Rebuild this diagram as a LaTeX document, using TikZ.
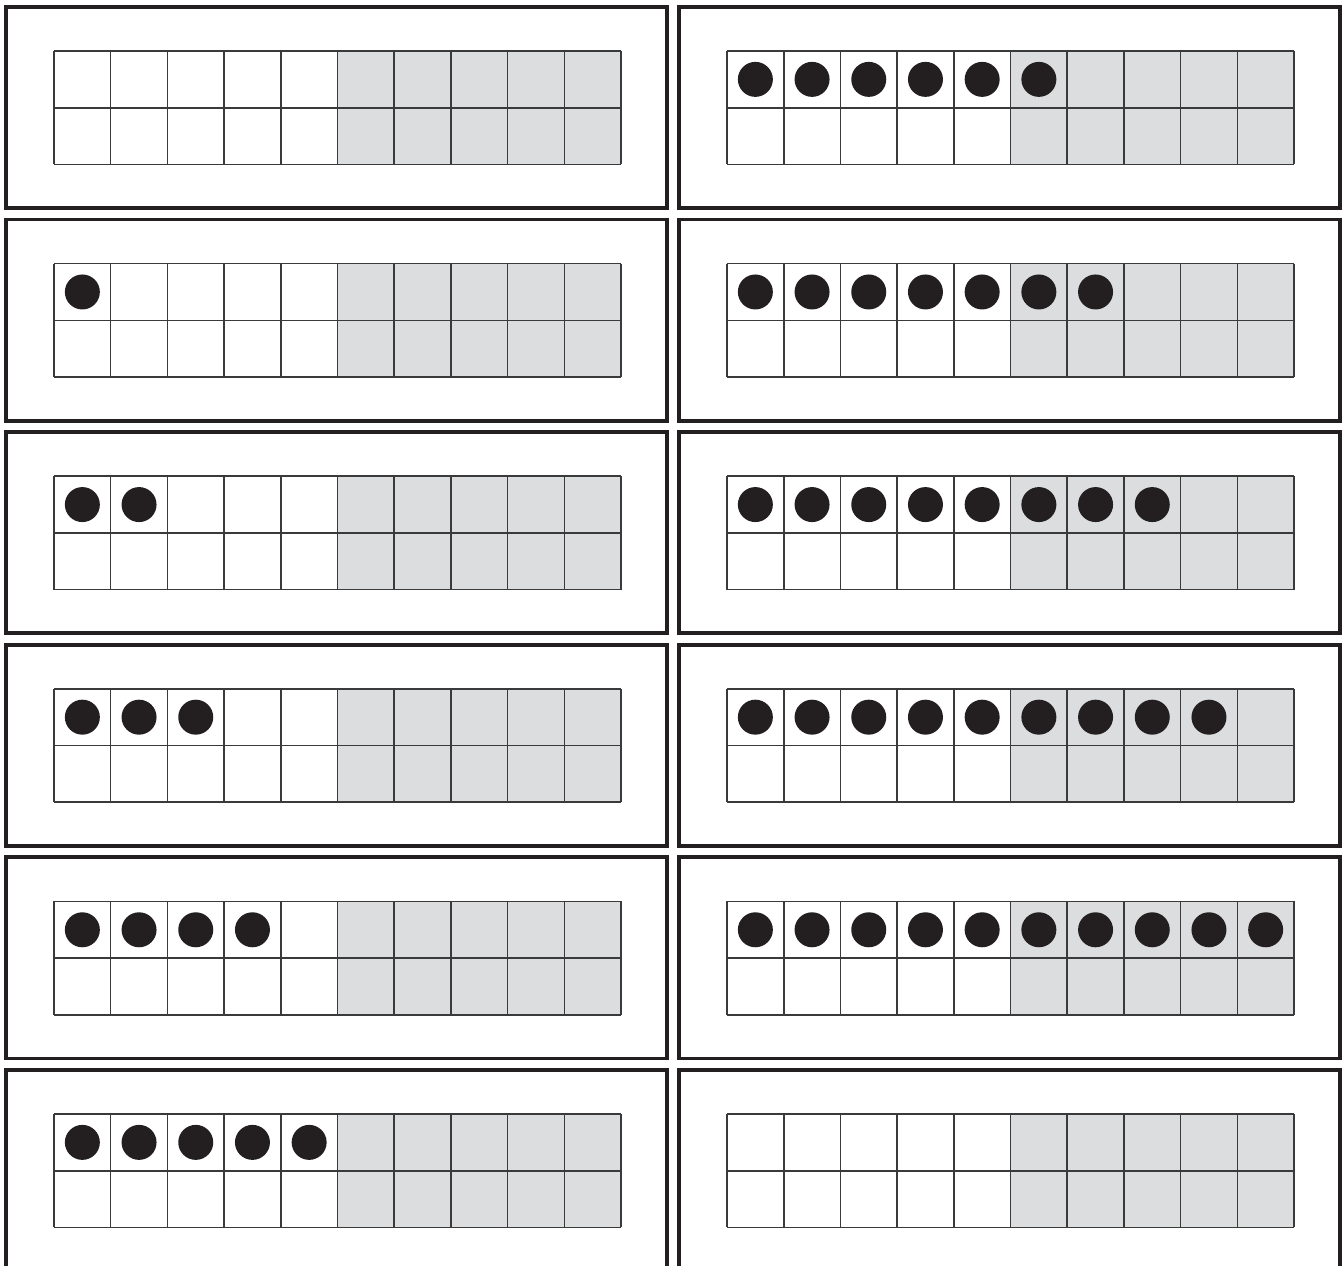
\documentclass[tikz,border=0pt]{standalone}
\usetikzlibrary{calc}
\definecolor{ink}{HTML}{231F20}
\definecolor{shade}{HTML}{DCDDDE}
\definecolor{cellink}{HTML}{3A3A3A}
\tikzset{
  card/.style={draw=ink, line width=1.1pt},
  cellline/.style={draw=cellink, line width=0.45pt},
  shadefill/.style={fill=shade},
  counter/.style={fill=ink},
}

\begin{document}
\begin{tikzpicture}[x=0.01cm, y=-0.01cm]
  \useasboundingbox (0,0) rectangle (1343,1265);
  % column / row / counters on the card
  \foreach \col/\row/\cnt in {0/0/0, 0/1/1, 0/2/2, 0/3/3, 0/4/4, 0/5/5,
                              1/0/6, 1/1/7, 1/2/8, 1/3/9, 1/4/10, 1/5/0} {
    \begin{scope}[shift={(4+673*\col, 5+212.6*\row)}]
      \draw[card] (1.9,1.9) rectangle (663.1,203.1);
      % right half of the ten frame is shaded
      \fill[shadefill] (50+5*56.7,46) rectangle (617,159.4);
      \foreach \i in {0,...,10}
        \draw[cellline] (50+56.7*\i,46) -- ++(0,113.4);
      \foreach \j in {0,1,2}
        \draw[cellline] (50,46+56.7*\j) -- ++(567,0);
      % counters
      \ifnum\cnt>0
        \foreach \k in {1,...,\cnt}
          \fill[counter] (50+56.7*\k-28.35,74.35) circle (17.5);
      \fi
    \end{scope}
  }
\end{tikzpicture}
\end{document}
